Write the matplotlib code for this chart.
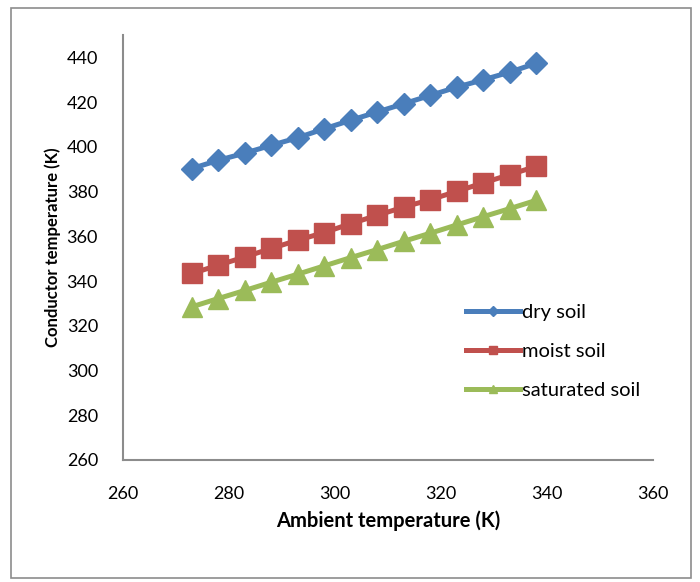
import matplotlib
matplotlib.use("Agg")
import matplotlib.pyplot as plt
from matplotlib.patches import Rectangle

plt.rcParams['font.family'] = ['Lato', 'DejaVu Sans']

# ambient temperature (K)
ambient = [273, 278, 283, 288, 293, 298, 303, 308, 313, 318, 323, 328, 333, 338]

# conductor temperature (K) for each soil condition
dry_soil = [390.3, 394.0, 397.2, 400.7, 404.1, 408.1, 411.9,
            415.6, 419.3, 423.0, 426.7, 430.0, 433.4, 437.4]
moist_soil = [343.4, 347.1, 350.8, 354.6, 358.3, 361.7, 365.7,
              369.4, 373.1, 376.4, 380.1, 383.9, 387.6, 391.3]
saturated_soil = [328.5, 332.2, 335.8, 339.5, 343.1, 346.8, 350.5,
                  354.1, 357.8, 361.4, 365.1, 368.8, 372.4, 376.1]

x_ticks = [260, 280, 300, 320, 340, 360]
y_ticks = [260, 280, 300, 320, 340, 360, 380, 400, 420, 440]

fig = plt.figure(figsize=(7.0, 5.82), dpi=100)
ax = fig.add_axes([123 / 700, 1 - 460 / 582, 530 / 700, 425 / 582])

# outer chart frame
fig.patches.append(Rectangle((11 / 700, 1 - 578 / 582), 680 / 700, 570 / 582,
                             transform=fig.transFigure, fill=False,
                             edgecolor='#8c8c8c', linewidth=1.2))

ax.plot(ambient, dry_soil, color='#4a7ebb', lw=3.6, marker='D', ms=10.8,
        label='dry soil')
ax.plot(ambient, moist_soil, color='#c0504d', lw=3.6, marker='s', ms=14,
        label='moist soil')
ax.plot(ambient, saturated_soil, color='#9bbb59', lw=3.6, marker='^', ms=14,
        label='saturated soil')

ax.set_xlim(260, 360)
ax.set_ylim(260, 450)
ax.set_xticks(x_ticks)
ax.set_yticks(y_ticks)
ax.tick_params(length=0, labelsize=13)
ax.tick_params(axis='x', pad=19)
ax.tick_params(axis='y', pad=18)
for side in ['top', 'right']:
    ax.spines[side].set_visible(False)
for side in ['left', 'bottom']:
    ax.spines[side].set_color('#8c8c8c')
    ax.spines[side].set_linewidth(1.5)

ax.set_xlabel('Ambient temperature (K)', fontsize=14.5, fontweight='bold',
              labelpad=6)
ax.set_ylabel('Conductor temperature (K)', fontsize=12, fontweight='bold',
              labelpad=4)

ax.legend(loc='upper left', bbox_to_anchor=(0.632, 0.387),
          frameon=False, fontsize=14.5, handlelength=2.7, handletextpad=0.1,
          labelspacing=1.1, markerscale=0.45, borderaxespad=0)

fig.savefig('out.png', dpi=100)
